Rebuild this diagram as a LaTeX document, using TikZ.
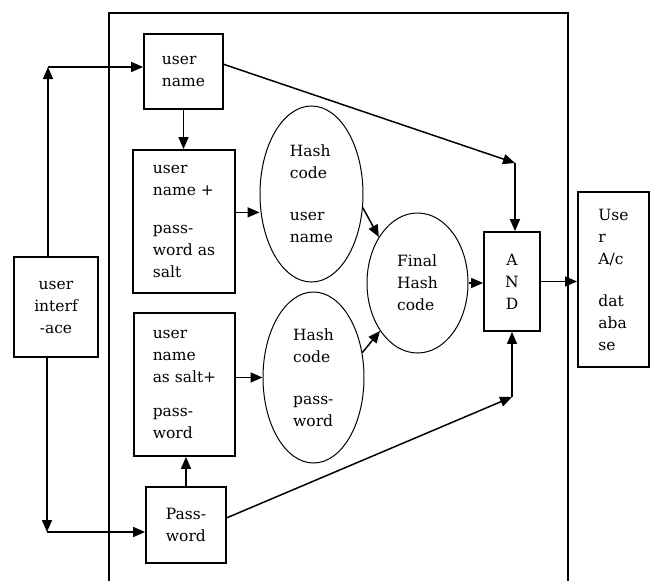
\documentclass[tikz,border=0pt]{standalone}
\usepackage{fontspec}
\setmainfont{DejaVu Serif}
\usetikzlibrary{shapes.geometric}
\usetikzlibrary{arrows.meta}
\tikzset{
  txt/.style={font=\fontsize{15.5}{22}\selectfont, inner sep=0pt},
  blok/.style={txt, draw, line width=1.8pt, rectangle, align=left},
  oval/.style={txt, draw, line width=1pt, ellipse, align=left},
  arr/.style={line width=1.5pt, -{Triangle[length=12pt,width=10pt]}}
}
\begin{document}
\begin{tikzpicture}[x=1pt,y=-1pt]
        \useasboundingbox (0,0) rectangle (654,581);
        \draw[line width=1.5pt] (109,581) -- (109,13) -- (568,13) -- (568,581);

        \node[blok, align=center, minimum width=84pt, minimum height=100pt] (iface) at (56,307) {user\\interf\\-ace};
        \node[blok, minimum width=79pt, minimum height=75pt] (uname) at (183.5,71.5) {user\\name};
        \node[blok, minimum width=102pt, minimum height=143pt] (salta) at (184,221.5) {user\\name +\\[16pt]pass-\\word as\\salt};
        \node[blok, minimum width=101pt, minimum height=143pt] (saltb) at (184.5,384.5) {user\\name\\as salt+\\[12pt]pass-\\word};
        \node[blok, minimum width=80pt, minimum height=76pt] (pwd) at (186,525) {Pass-\\word};
        \node[oval, minimum width=103pt, minimum height=176pt] (hasha) at (311.5,194) {Hash\\code\\[20pt]user\\name};
        \node[oval, minimum width=101pt, minimum height=171pt] (hashb) at (313.5,377.5) {Hash\\code\\[20pt]pass-\\word};
        \node[oval, minimum width=101pt, minimum height=140pt] (fin) at (417.5,283) {Final\\Hash\\code};
        \node[blok, align=center, minimum width=56pt, minimum height=99pt] (gate) at (512,281.5) {A\\N\\D};
        \node[blok, minimum width=71pt, minimum height=175pt] (db) at (613.5,279.5) {Use\\r\\A/c\\[20pt]dat\\aba\\se};

        \coordinate (jup) at (48,67);
        \coordinate (jdown) at (47,532);
        \coordinate (jgatea) at (515,163);
        \coordinate (jgateb) at (512,397);

        \draw[arr] (iface.north -| jup) -- (jup);
        \draw[arr] (jup) -- (jup -| uname.west);
        \draw[arr] (iface.south -| jdown) -- (jdown);
        \draw[arr] (jdown) -- (jdown -| pwd.west);
        \draw[arr] (uname.south) -- (uname.south |- salta.north);
        \draw[arr] (pwd.north) -- (pwd.north |- saltb.south);
        \draw[arr] (salta.10) -- (salta.10 -| hasha.west);
        \draw[arr] (saltb.east |- hashb.west) -- (hashb.west);
        \draw[arr] (hasha.-15) -- (fin.130);
        \draw[arr] (hashb.27) -- (fin.232);
        \draw[arr] (fin.east) -- (fin.east -| gate.west);
        \draw[arr] (uname.10) -- (jgatea);
        \draw[arr] (jgatea) -- (jgatea |- gate.north);
        \draw[arr] (pwd.10) -- (jgateb);
        \draw[arr] (jgateb) -- (jgateb |- gate.south);
        \draw[arr] (gate.east) -- (gate.east -| db.west);
\end{tikzpicture}
\end{document}
